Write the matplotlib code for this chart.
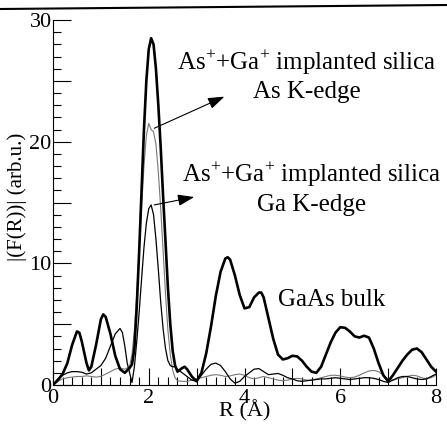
import matplotlib
matplotlib.use("Agg")
import matplotlib.pyplot as plt
from matplotlib.ticker import MultipleLocator, FuncFormatter
from matplotlib.lines import Line2D

plt.rcParams['font.family'] = ['Liberation Serif', 'DejaVu Serif']
plt.rcParams['mathtext.fontset'] = 'custom'
plt.rcParams['mathtext.rm'] = 'Liberation Serif'

# |F(R)|, (R in Angstrom, magnitude)
gaas_bulk = [(0, 0.0), (0.1, 0.4), (0.2, 0.9), (0.3, 1.8), (0.4, 3.3), (0.5, 4.4),
             (0.55, 4.3), (0.6, 3.6), (0.7, 1.8), (0.75, 1.2), (0.8, 1.5), (0.9, 3.3),
             (1.0, 5.4), (1.05, 5.8), (1.1, 5.6), (1.2, 4.2), (1.3, 2.4), (1.4, 1.3),
             (1.5, 1.0), (1.6, 1.4), (1.65, 1.7), (1.7, 3.0), (1.75, 6.5), (1.8, 11.0),
             (1.85, 16.0), (1.9, 21.0), (1.95, 25.0), (2.0, 27.6), (2.05, 28.5),
             (2.1, 28.0), (2.15, 26.0), (2.2, 23.0), (2.25, 19.5), (2.3, 15.5),
             (2.35, 11.8), (2.4, 8.0), (2.45, 5.0), (2.5, 2.8), (2.55, 1.6), (2.6, 1.1),
             (2.7, 1.4), (2.75, 1.5), (2.8, 1.3), (2.9, 0.7), (3.0, 0.3), (3.1, 1.0),
             (3.2, 2.6), (3.3, 4.8), (3.4, 7.3), (3.5, 9.3), (3.6, 10.4), (3.65, 10.5),
             (3.7, 10.3), (3.8, 9.0), (3.9, 7.4), (4.0, 6.3), (4.1, 6.4), (4.2, 7.2),
             (4.3, 7.6), (4.35, 7.6), (4.4, 7.2), (4.5, 5.5), (4.6, 3.8), (4.7, 2.5),
             (4.8, 2.1), (4.9, 2.2), (5.0, 2.4), (5.1, 2.35), (5.2, 2.0), (5.3, 1.5),
             (5.4, 1.1), (5.5, 1.0), (5.6, 1.5), (5.7, 2.5), (5.8, 3.5), (5.9, 4.3),
             (6.0, 4.75), (6.1, 4.7), (6.2, 4.4), (6.3, 4.0), (6.4, 3.9), (6.5, 4.05),
             (6.6, 3.9), (6.7, 3.0), (6.8, 1.8), (6.9, 0.8), (7.0, 0.3), (7.1, 0.8),
             (7.2, 1.4), (7.3, 2.0), (7.4, 2.5), (7.5, 2.9), (7.6, 3.0), (7.7, 2.7),
             (7.8, 2.1), (7.9, 1.5), (8.0, 1.1)]

as_edge = [(0, 0.0), (0.1, 0.3), (0.2, 0.5), (0.3, 0.6), (0.4, 0.65), (0.5, 0.7),
           (0.6, 0.7), (0.7, 0.75), (0.8, 0.7), (0.9, 0.65), (1.0, 0.7), (1.1, 0.9),
           (1.2, 1.1), (1.3, 1.3), (1.4, 1.4), (1.5, 1.3), (1.6, 1.5), (1.65, 2.5),
           (1.7, 4.5), (1.75, 7.5), (1.8, 11.0), (1.85, 14.5), (1.9, 18.0),
           (1.95, 20.5), (2.0, 21.5), (2.05, 21.0), (2.1, 20.8), (2.15, 19.8),
           (2.2, 17.5), (2.25, 14.5), (2.3, 11.0), (2.35, 7.5), (2.4, 4.5), (2.45, 2.5),
           (2.5, 1.2), (2.55, 0.6), (2.6, 0.35), (2.7, 0.3), (2.8, 0.3), (2.9, 0.4),
           (3.0, 0.5), (3.1, 0.6), (3.2, 0.7), (3.3, 0.8), (3.4, 0.85), (3.5, 0.8),
           (3.6, 0.7), (3.7, 0.75), (3.8, 0.85), (3.9, 0.9), (4.0, 0.8), (4.1, 0.6),
           (4.2, 0.5), (4.3, 0.6), (4.4, 0.7), (4.5, 0.6), (4.6, 0.5), (4.7, 0.4),
           (4.8, 0.35), (4.9, 0.4), (5.0, 0.5), (5.1, 0.55), (5.2, 0.5), (5.3, 0.4),
           (5.4, 0.4), (5.5, 0.5), (5.6, 0.6), (5.7, 0.7), (5.8, 0.8), (5.9, 0.8),
           (6.0, 0.75), (6.1, 0.65), (6.2, 0.6), (6.3, 0.65), (6.4, 0.8), (6.5, 1.0),
           (6.6, 1.15), (6.7, 1.2), (6.8, 1.1), (6.9, 0.8), (7.0, 0.5), (7.1, 0.4),
           (7.2, 0.5), (7.3, 0.6), (7.4, 0.7), (7.5, 0.8), (7.6, 0.75), (7.7, 0.6),
           (7.8, 0.5), (7.9, 0.6), (8.0, 0.8)]

ga_edge = [(0, 0.0), (0.1, 0.5), (0.2, 0.8), (0.3, 1.0), (0.4, 1.1), (0.5, 1.1),
           (0.6, 1.05), (0.7, 0.9), (0.8, 1.0), (0.9, 1.3), (1.0, 1.6), (1.1, 2.2),
           (1.2, 3.2), (1.3, 4.2), (1.4, 4.65), (1.45, 4.3), (1.5, 3.2), (1.55, 1.8),
           (1.6, 1.0), (1.65, 0.2), (1.7, 1.5), (1.75, 3.6), (1.8, 6.0), (1.85, 8.7),
           (1.9, 11.3), (1.95, 13.3), (2.0, 14.5), (2.05, 14.8), (2.1, 14.0),
           (2.15, 12.0), (2.2, 9.5), (2.25, 6.8), (2.3, 4.6), (2.35, 3.0), (2.4, 2.0),
           (2.45, 1.6), (2.5, 1.5), (2.55, 1.5), (2.6, 1.3), (2.7, 1.0), (2.8, 0.7),
           (2.9, 0.4), (3.0, 0.3), (3.1, 0.8), (3.2, 1.3), (3.3, 1.7), (3.4, 1.8),
           (3.5, 1.6), (3.6, 1.1), (3.7, 0.5), (3.8, 0.15), (3.9, 0.3), (4.0, 0.7),
           (4.1, 1.0), (4.2, 1.3), (4.3, 1.35), (4.4, 1.1), (4.5, 0.85), (4.6, 0.9),
           (4.7, 0.95), (4.8, 0.8), (4.9, 0.6), (5.0, 0.5), (5.1, 0.35), (5.2, 0.3),
           (5.3, 0.35), (5.4, 0.4), (5.5, 0.45), (5.6, 0.5), (5.7, 0.5), (5.8, 0.55),
           (5.9, 0.6), (6.0, 0.55), (6.1, 0.5), (6.2, 0.45), (6.3, 0.5), (6.4, 0.55),
           (6.5, 0.6), (6.6, 0.6), (6.7, 0.55), (6.8, 0.45), (6.9, 0.3), (7.0, 0.2),
           (7.1, 0.4), (7.2, 0.6), (7.3, 0.7), (7.4, 0.7), (7.5, 0.6), (7.6, 0.5),
           (7.7, 0.45), (7.8, 0.5), (7.9, 0.7), (8.0, 0.9)]

label_top = "As$^{+}$+Ga$^{+}$ implanted silica"

fig = plt.figure(figsize=(4.47, 4.29), dpi=100)
ax = fig.add_axes([53/447, 44/429, 383/447, 365/429])

def xy(pairs):
    return [p[0] for p in pairs], [p[1] for p in pairs]

r, f = xy(as_edge)
ax.plot(r, f, color='#777777', lw=0.8)
r, f = xy(ga_edge)
ax.plot(r, f, color='black', lw=0.9)
r, f = xy(gaas_bulk)
ax.plot(r, f, color='black', lw=1.9)

ax.set_xlim(0, 8)
ax.set_ylim(0, 30)
for s in ['top', 'right']:
    ax.spines[s].set_visible(False)

ax.xaxis.set_major_locator(MultipleLocator(1))
ax.xaxis.set_minor_locator(MultipleLocator(0.2))
ax.xaxis.set_major_formatter(FuncFormatter(lambda v, p: '%d' % v if round(v) % 2 == 0 else ''))
ax.yaxis.set_major_locator(MultipleLocator(5))
ax.yaxis.set_minor_locator(MultipleLocator(1))
ax.yaxis.set_major_formatter(FuncFormatter(lambda v, p: '%d' % v if round(v) % 10 == 0 else ''))
ax.tick_params(which='major', direction='in', length=12, width=0.8, labelsize=16, pad=3)
ax.tick_params(which='minor', direction='in', length=5.5, width=0.8)
ax.tick_params(axis='y', which='major', length=13, pad=1)

ax.set_xlabel("R (Å)", fontsize=16, labelpad=-6)
ax.set_ylabel("|(F(R))| (arb.u.)", fontsize=15)
ax.yaxis.set_label_coords(-0.068, 0.515)

ax.text(5.31, 26.55, label_top, fontsize=18, ha='center', va='center')
ax.text(5.31, 24.05, "As K-edge", fontsize=18, ha='center', va='center')
ax.text(5.4, 17.35, label_top, fontsize=18, ha='center', va='center')
ax.text(5.4, 14.8, "Ga K-edge", fontsize=18, ha='center', va='center')
ax.text(5.82, 6.98, "GaAs bulk", fontsize=18, ha='center', va='center')

arrow = dict(arrowstyle='-|>,head_length=1.0,head_width=0.35', color='black', lw=0.8,
             shrinkA=0, shrinkB=0)
ax.annotate('', xy=(3.58, 23.7), xytext=(2.115, 21.1), arrowprops=arrow)
ax.annotate('', xy=(2.95, 15.45), xytext=(2.115, 14.8), arrowprops=arrow)

# border line across the top of the scan
fig.add_artist(Line2D([0, 1], [1 - 9/429, 1 - 5/429], color='black', lw=1.5,
                      transform=fig.transFigure))

fig.savefig("out.png", dpi=100)
